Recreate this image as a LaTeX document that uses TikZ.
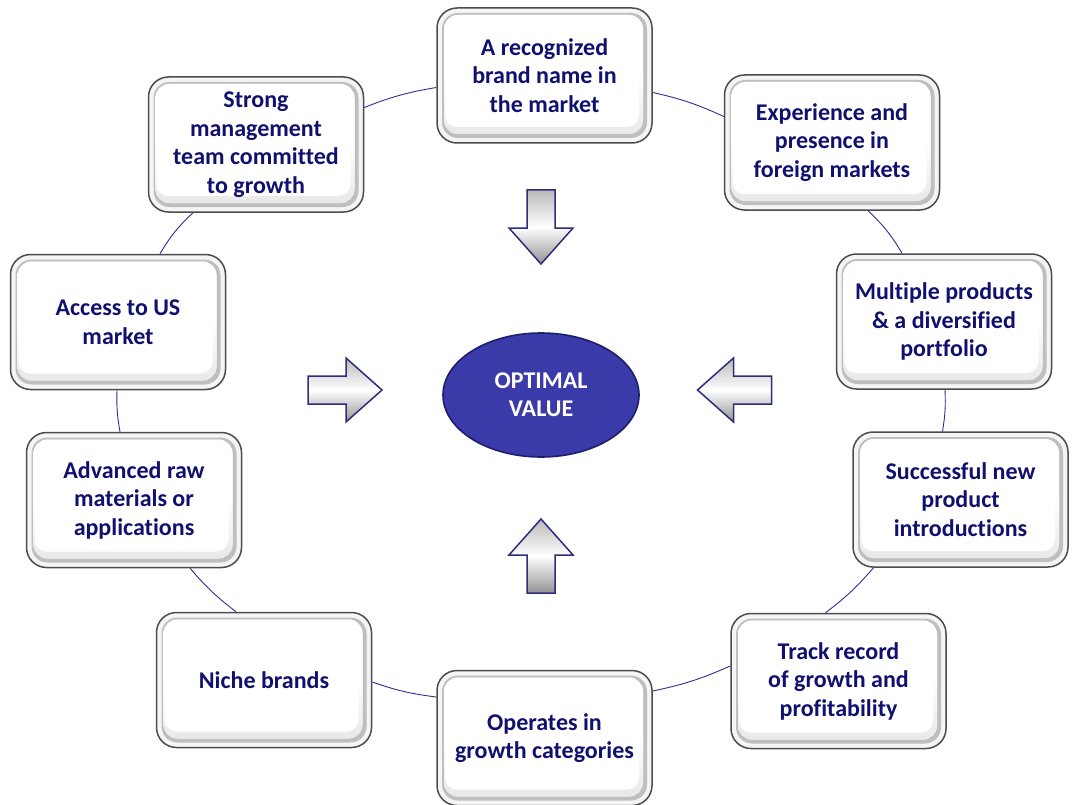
\documentclass[tikz,border=0pt]{standalone}
\usepackage{fontspec}
\setmainfont{Carlito}[Ligatures=NoCommon]
\usetikzlibrary{calc,backgrounds,shapes.geometric}
\definecolor{navy}{RGB}{16,16,110}
\definecolor{linkblue}{RGB}{45,45,150}
\definecolor{ovalblue}{RGB}{58,58,168}
\definecolor{ovaldark}{RGB}{30,30,110}
\definecolor{arrowedge}{RGB}{45,45,125}
\tikzset{
  box/.style={rounded corners=20pt, minimum width=215pt, minimum height=135pt,
    draw=gray!60!black, line width=1.5pt, fill=gray!8, align=center, text=navy,
    font=\fontsize{24}{28.5}\selectfont\bfseries, inner sep=0pt,
    path picture={
      \fill[gray!50, rounded corners=16pt]
        ([shift={(5pt,5pt)}]path picture bounding box.south west) rectangle
        ([shift={(-5pt,-5pt)}]path picture bounding box.north east);
      \fill[rounded corners=14pt, top color=white, bottom color=gray!18, middle color=white]
        ([shift={(7pt,9pt)}]path picture bounding box.south west) rectangle
        ([shift={(-9pt,-7pt)}]path picture bounding box.north east);
      \fill[rounded corners=12pt, white]
        ([shift={(8pt,16pt)}]path picture bounding box.south west) rectangle
        ([shift={(-13pt,-8pt)}]path picture bounding box.north east);
    }},
  conn/.style={draw=linkblue, line width=0.9pt},
  blockarrow/.pic={
    \path[draw=arrowedge, line width=1.5pt, line join=miter,
      top color=gray!55, bottom color=gray!85, middle color=white]
      (-37,-14) -- (1,-14) -- (1,-32) -- (37,0) -- (1,32) -- (1,14) -- (-37,14) -- cycle;
  }
}
\begin{document}
\begin{tikzpicture}[x=1pt,y=-1pt]
\useasboundingbox (0,0) rectangle (1078,805);

\node[box] (top)    at (544.5,75.5) {A recognized\\brand name in\\the market};
\node[box] (exp)    at (832,142.5)  {Experience and\\presence in\\foreign markets};
\node[box] (mult)   at (944,321.5)  {Multiple products\\\& a diversified\\portfolio};
\node[box] (succ)   at (960.5,499.5){Successful new\\product\\introductions};
\node[box] (track)  at (838.5,681)  {Track record\\of growth and\\profitability};
\node[box] (oper)   at (544.5,738)  {Operates in\\growth categories};
\node[box] (niche)  at (264,680)    {Niche brands};
\node[box] (adv)    at (134,500)    {Advanced raw\\materials or\\applications};
\node[box] (access) at (118,322)    {Access to US\\market};
\node[box] (strong) at (256,144.5)  {Strong\\management\\team committed\\to growth};

\node[ellipse, minimum width=196pt, minimum height=124pt, fill=ovalblue,
  draw=ovaldark, line width=1.6pt, text=white, align=center,
  font=\fontsize{24}{28}\selectfont\bfseries] (opt) at (541,395) {OPTIMAL\\VALUE};

\pic at (541,227) [rotate=-90] {blockarrow};
\pic at (541,556) [rotate=90] {blockarrow};
\pic at (345,390) {blockarrow};
\pic at (734.5,390) [rotate=180] {blockarrow};

\begin{scope}[on background layer]
\draw[conn] ($(top.east)+(0,17)$) to[bend left=6] ($(exp.west)+(0,-26)$);
\draw[conn] ($(exp.south)+(36,0)$) to[bend left=8] ($(mult.north)+(-42,0)$);
\draw[conn] ($(mult.south)+(1,0)$) to[bend left=6] ($(succ.north)+(-18,0)$);
\draw[conn] ($(succ.south)+(-87,0)$) to[bend left=6] ($(track.north)+(-13,0)$);
\draw[conn] ($(track.west)+(0,-15)$) to[bend left=6] ($(oper.east)+(0,-47)$);
\draw[conn] ($(oper.west)+(0,-41)$) to[bend left=6] ($(niche.east)+(0,2)$);
\draw[conn] ($(niche.north)+(-28,0)$) to[bend left=6] ($(adv.south)+(56,0)$);
\draw[conn] ($(adv.north)+(-14,0)$) to[bend left=6] ($(access.south)+(-1,0)$);
\draw[conn] ($(access.north)+(42,0)$) to[bend left=8] ($(strong.south)+(-63,0)$);
\draw[conn] ($(strong.east)+(0,-37)$) to[bend left=6] ($(top.west)+(0,12)$);
\end{scope}
\end{tikzpicture}
\end{document}
